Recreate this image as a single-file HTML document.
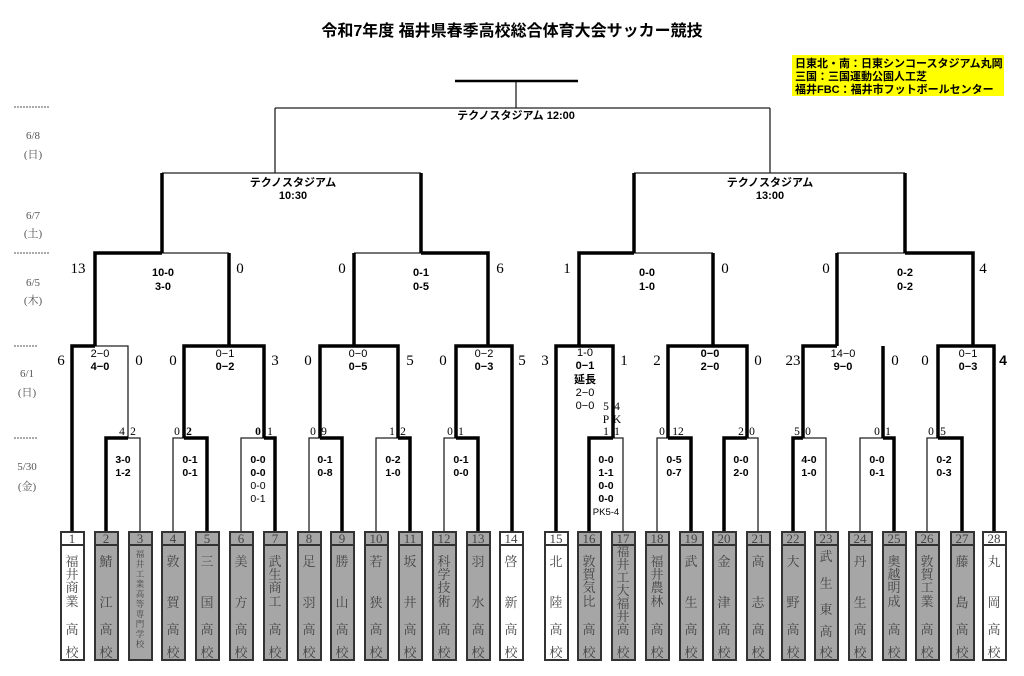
<!DOCTYPE html>
<html><head><meta charset="utf-8">
<style>
html,body{margin:0;padding:0;background:#fff;}
body{width:1024px;height:676px;overflow:hidden;position:relative;}
svg{position:absolute;left:0;top:0;}
.t{font-family:"Liberation Sans","Noto Sans CJK JP",sans-serif;font-weight:bold;}
.s{font-family:"Liberation Serif","Noto Serif CJK SC",serif;}
.n{font-family:"Liberation Serif","Noto Serif CJK SC",serif;fill:#444;font-size:13px;}
.d{font-family:"Liberation Serif","Noto Serif CJK SC",serif;fill:#555;font-size:11px;}
</style></head><body>
<svg width="1024" height="676" viewBox="0 0 1024 676" xmlns="http://www.w3.org/2000/svg">
<text x="512" y="36" text-anchor="middle" class="t" font-size="16">令和7年度  福井県春季高校総合体育大会サッカー競技</text>
<rect x="792" y="55" width="212" height="41" fill="#ffff00"/>
<text x="795" y="67" class="t" font-size="11">日東北・南：日東シンコースタジアム丸岡</text>
<text x="795" y="80" class="t" font-size="11">三国：三国運動公園人工芝</text>
<text x="795" y="93" class="t" font-size="11">福井FBC：福井市フットボールセンター</text>

<g stroke="#555" stroke-width="1" stroke-dasharray="2,1">
<line x1="14" y1="107" x2="50" y2="107"/><line x1="14" y1="253" x2="50" y2="253"/>
<line x1="14" y1="346" x2="38" y2="346"/><line x1="14" y1="438" x2="38" y2="438"/>
</g>
<g class="d" text-anchor="middle">
<text x="33" y="139">6/8</text><text x="33" y="158">(日)</text>
<text x="33" y="219">6/7</text><text x="33" y="237">(土)</text>
<text x="33" y="286">6/5</text><text x="33" y="304">(木)</text>
<text x="27" y="377">6/1</text><text x="27" y="396">(日)</text>
<text x="27" y="470">5/30</text><text x="27" y="490">(金)</text>
</g>

<!-- thin lines -->
<g stroke="#222" stroke-width="1.3" fill="none">
<path d="M516 81V108M275 108H770M275 108V173M770 108V173M162 173H421M634 173H905"/>
<path d="M162 253H229M354 253H421M634 253H713M837 253H905"/>
<path d="M95 346H128V438"/>
<path d="M128 438H140V532M173 532V438H184M241 532V438H264M309 532V438H320M376 532V438H398M444 532V438H456"/>
<path d="M613 438H623V532M657 532V438H668M747 438H758V532M803 438H826V532M860 532V438H883M927 532V438H938"/>
</g>
<!-- thick lines -->
<g stroke="#000" stroke-width="3.5" fill="none" stroke-linejoin="miter">
<path d="M455 81H578" stroke-width="2.5"/>
<path d="M162 173V253M421 173V253M634 173V253M905 173V253"/>
<path d="M95 346V253H162M229 253V346M354 346V253M421 253H488V346M579 346V253H634M713 253V346M837 346V253M905 253H973V346"/>
<path d="M72 532V346H95"/>
<path d="M184 438V346H264V438M320 438V346H398V438M456 438V346H512V532"/>
<path d="M556 532V346H613V438M668 438V346H747V438M803 438V346H837M883 346V438M938 438V346H994V532"/>
<path d="M106 532V438H128M184 438H207V532M264 438H275V532M320 438H342V532M398 438H410V532M456 438H478V532"/>
<path d="M589 532V438H613M668 438H691V532M724 532V438H747M793 532V438H803M883 438H894V532M938 438H962V532"/>
</g>

<!-- labels -->
<g class="t" font-size="11" text-anchor="middle">
<text x="516" y="119">テクノスタジアム  12:00</text>
<text x="293" y="186">テクノスタジアム</text><text x="293" y="199">10:30</text>
<text x="770" y="186">テクノスタジアム</text><text x="770" y="199">13:00</text>
<text x="163" y="276">10-0</text><text x="163" y="290">3-0</text>
<text x="421" y="276">0-1</text><text x="421" y="290">0-5</text>
<text x="647" y="276">0-0</text><text x="647" y="290">1-0</text>
<text x="905" y="276">0-2</text><text x="905" y="290">0-2</text>
<text x="100" y="357" font-weight="normal">2−0</text><text x="100" y="370">4−0</text>
<text x="225" y="357" font-weight="normal">0−1</text><text x="225" y="370">0−2</text>
<text x="358" y="357" font-weight="normal">0−0</text><text x="358" y="370">0−5</text>
<text x="484" y="357" font-weight="normal">0−2</text><text x="484" y="370">0−3</text>
<text x="585" y="356" font-weight="normal">1-0</text><text x="585" y="369">0−1</text><text x="585" y="383">延長</text>
<text x="585" y="396" font-weight="normal">2−0</text><text x="585" y="409" font-weight="normal">0−0</text>
<text x="710" y="357">0−0</text><text x="710" y="370">2−0</text>
<text x="843" y="357" font-weight="normal">14−0</text><text x="843" y="370">9−0</text>
<text x="968" y="357" font-weight="normal">0−1</text><text x="968" y="370">0−3</text>
</g>
<g class="t" font-size="10.5" text-anchor="middle">
<text x="123" y="463">3-0</text><text x="123" y="476">1-2</text>
<text x="190" y="463">0-1</text><text x="190" y="476">0-1</text>
<text x="258" y="463">0-0</text><text x="258" y="476">0-0</text><text x="258" y="489" font-weight="normal">0-0</text><text x="258" y="502" font-weight="normal">0-1</text>
<text x="325" y="463">0-1</text><text x="325" y="476">0-8</text>
<text x="393" y="463">0-2</text><text x="393" y="476">1-0</text>
<text x="461" y="463">0-1</text><text x="461" y="476">0-0</text>
<text x="606" y="463">0-0</text><text x="606" y="476">1-1</text><text x="606" y="489">0-0</text><text x="606" y="502">0-0</text>
<text x="606" y="515" font-weight="normal" font-size="9.5">PK5-4</text>
<text x="674" y="463">0-5</text><text x="674" y="476">0-7</text>
<text x="741" y="463">0-0</text><text x="741" y="476">2-0</text>
<text x="809" y="463">4-0</text><text x="809" y="476">1-0</text>
<text x="877" y="463">0-0</text><text x="877" y="476">0-1</text>
<text x="944" y="463">0-2</text><text x="944" y="476">0-3</text>
</g>
<g class="s" font-size="15" text-anchor="middle">
<text x="78" y="273">13</text><text x="240" y="273">0</text><text x="342" y="273">0</text><text x="500" y="273">6</text>
<text x="567" y="273">1</text><text x="725" y="273">0</text><text x="826" y="273">0</text><text x="983" y="273">4</text>
<text x="61" y="365">6</text><text x="139" y="365">0</text><text x="173" y="365">0</text><text x="275" y="365">3</text>
<text x="308" y="365">0</text><text x="410" y="365">5</text><text x="443" y="365">0</text><text x="522" y="365">5</text>
<text x="545" y="365">3</text><text x="624" y="365">1</text><text x="657" y="365">2</text><text x="758" y="365">0</text>
<text x="793" y="365">23</text><text x="895" y="365">0</text><text x="925" y="365">0</text>
<text x="1003" y="365" class="t" font-size="14">4</text>
</g>
<g class="s" font-size="11.5" text-anchor="middle">
<text x="122" y="435">4</text><text x="133" y="435">2</text>
<text x="177" y="435">0</text><text x="189" y="435" font-weight="bold">2</text>
<text x="258" y="435" font-weight="bold">0</text><text x="270" y="435">1</text>
<text x="313" y="435">0</text><text x="324" y="435">9</text>
<text x="392" y="435">1</text><text x="403" y="435">2</text>
<text x="450" y="435">0</text><text x="461" y="435">1</text>
<text x="606" y="410">5</text><text x="617" y="410">4</text>
<text x="606" y="423">P</text><text x="617" y="423">K</text>
<text x="606" y="435">1</text><text x="617" y="435">1</text>
<text x="662" y="435">0</text><text x="678" y="435">12</text>
<text x="741" y="435">2</text><text x="752" y="435">0</text>
<text x="797" y="435">5</text><text x="808" y="435">0</text>
<text x="877" y="435">0</text><text x="888" y="435">1</text>
<text x="931" y="435">0</text><text x="943" y="435">5</text>
</g>

<!-- team boxes -->
<g stroke="#333" stroke-width="2">
<rect x="61" y="532" width="23" height="13" fill="#fff"/><rect x="61" y="545" width="23" height="115" fill="#fff"/>
<rect x="95" y="532" width="23" height="13" fill="#a6a6a6"/><rect x="95" y="545" width="23" height="115" fill="#a6a6a6"/>
<rect x="129" y="532" width="23" height="13" fill="#a6a6a6"/><rect x="129" y="545" width="23" height="115" fill="#a6a6a6"/>
<rect x="162" y="532" width="23" height="13" fill="#a6a6a6"/><rect x="162" y="545" width="23" height="115" fill="#a6a6a6"/>
<rect x="196" y="532" width="23" height="13" fill="#a6a6a6"/><rect x="196" y="545" width="23" height="115" fill="#a6a6a6"/>
<rect x="230" y="532" width="23" height="13" fill="#a6a6a6"/><rect x="230" y="545" width="23" height="115" fill="#a6a6a6"/>
<rect x="264" y="532" width="23" height="13" fill="#a6a6a6"/><rect x="264" y="545" width="23" height="115" fill="#a6a6a6"/>
<rect x="298" y="532" width="23" height="13" fill="#a6a6a6"/><rect x="298" y="545" width="23" height="115" fill="#a6a6a6"/>
<rect x="331" y="532" width="23" height="13" fill="#a6a6a6"/><rect x="331" y="545" width="23" height="115" fill="#a6a6a6"/>
<rect x="365" y="532" width="23" height="13" fill="#a6a6a6"/><rect x="365" y="545" width="23" height="115" fill="#a6a6a6"/>
<rect x="399" y="532" width="23" height="13" fill="#a6a6a6"/><rect x="399" y="545" width="23" height="115" fill="#a6a6a6"/>
<rect x="433" y="532" width="23" height="13" fill="#a6a6a6"/><rect x="433" y="545" width="23" height="115" fill="#a6a6a6"/>
<rect x="467" y="532" width="23" height="13" fill="#a6a6a6"/><rect x="467" y="545" width="23" height="115" fill="#a6a6a6"/>
<rect x="500" y="532" width="23" height="13" fill="#fff"/><rect x="500" y="545" width="23" height="115" fill="#fff"/>
<rect x="545" y="532" width="23" height="13" fill="#fff"/><rect x="545" y="545" width="23" height="115" fill="#fff"/>
<rect x="578" y="532" width="23" height="13" fill="#a6a6a6"/><rect x="578" y="545" width="23" height="115" fill="#a6a6a6"/>
<rect x="612" y="532" width="23" height="13" fill="#a6a6a6"/><rect x="612" y="545" width="23" height="115" fill="#a6a6a6"/>
<rect x="646" y="532" width="23" height="13" fill="#a6a6a6"/><rect x="646" y="545" width="23" height="115" fill="#a6a6a6"/>
<rect x="680" y="532" width="23" height="13" fill="#a6a6a6"/><rect x="680" y="545" width="23" height="115" fill="#a6a6a6"/>
<rect x="713" y="532" width="23" height="13" fill="#a6a6a6"/><rect x="713" y="545" width="23" height="115" fill="#a6a6a6"/>
<rect x="747" y="532" width="23" height="13" fill="#a6a6a6"/><rect x="747" y="545" width="23" height="115" fill="#a6a6a6"/>
<rect x="782" y="532" width="23" height="13" fill="#a6a6a6"/><rect x="782" y="545" width="23" height="115" fill="#a6a6a6"/>
<rect x="815" y="532" width="23" height="13" fill="#a6a6a6"/><rect x="815" y="545" width="23" height="115" fill="#a6a6a6"/>
<rect x="849" y="532" width="23" height="13" fill="#a6a6a6"/><rect x="849" y="545" width="23" height="115" fill="#a6a6a6"/>
<rect x="883" y="532" width="23" height="13" fill="#a6a6a6"/><rect x="883" y="545" width="23" height="115" fill="#a6a6a6"/>
<rect x="916" y="532" width="23" height="13" fill="#a6a6a6"/><rect x="916" y="545" width="23" height="115" fill="#a6a6a6"/>
<rect x="951" y="532" width="23" height="13" fill="#a6a6a6"/><rect x="951" y="545" width="23" height="115" fill="#a6a6a6"/>
<rect x="983" y="532" width="23" height="13" fill="#fff"/><rect x="983" y="545" width="23" height="115" fill="#fff"/>
</g>
<g class="n" font-size="11" text-anchor="middle">
<text x="72" y="543">1</text><text x="106" y="543">2</text><text x="140" y="543">3</text><text x="173" y="543">4</text>
<text x="207" y="543">5</text><text x="241" y="543">6</text><text x="275" y="543">7</text><text x="309" y="543">8</text>
<text x="342" y="543">9</text><text x="376" y="543">10</text><text x="410" y="543">11</text><text x="444" y="543">12</text>
<text x="478" y="543">13</text><text x="511" y="543">14</text><text x="556" y="543">15</text><text x="589" y="543">16</text>
<text x="623" y="543">17</text><text x="657" y="543">18</text><text x="691" y="543">19</text><text x="724" y="543">20</text>
<text x="758" y="543">21</text><text x="793" y="543">22</text><text x="826" y="543">23</text><text x="860" y="543">24</text>
<text x="894" y="543">25</text><text x="927" y="543">26</text><text x="962" y="543">27</text><text x="994" y="543">28</text>
</g>
<g class="n" text-anchor="middle">
<!-- 4-char pattern y: 566,579,592,606 ; 2-char: 566,607 ; 高 634 校 657 -->
<text x="72" y="566">福</text><text x="72" y="579">井</text><text x="72" y="592">商</text><text x="72" y="606">業</text><text x="72" y="634">高</text><text x="72" y="657">校</text>
<text x="106" y="566">鯖</text><text x="106" y="607">江</text><text x="106" y="634">高</text><text x="106" y="657">校</text>
<g font-size="8.5"><text x="140" y="557">福</text><text x="140" y="567">井</text><text x="140" y="577">工</text><text x="140" y="587">業</text><text x="140" y="597">高</text><text x="140" y="607">等</text><text x="140" y="617">専</text><text x="140" y="627">門</text><text x="140" y="637">学</text><text x="140" y="647">校</text></g>
<text x="173" y="566">敦</text><text x="173" y="607">賀</text><text x="173" y="634">高</text><text x="173" y="657">校</text>
<text x="207" y="566">三</text><text x="207" y="607">国</text><text x="207" y="634">高</text><text x="207" y="657">校</text>
<text x="241" y="566">美</text><text x="241" y="607">方</text><text x="241" y="634">高</text><text x="241" y="657">校</text>
<text x="275" y="566">武</text><text x="275" y="579">生</text><text x="275" y="592">商</text><text x="275" y="606">工</text><text x="275" y="634">高</text><text x="275" y="657">校</text>
<text x="309" y="566">足</text><text x="309" y="607">羽</text><text x="309" y="634">高</text><text x="309" y="657">校</text>
<text x="342" y="566">勝</text><text x="342" y="607">山</text><text x="342" y="634">高</text><text x="342" y="657">校</text>
<text x="376" y="566">若</text><text x="376" y="607">狭</text><text x="376" y="634">高</text><text x="376" y="657">校</text>
<text x="410" y="566">坂</text><text x="410" y="607">井</text><text x="410" y="634">高</text><text x="410" y="657">校</text>
<text x="444" y="566">科</text><text x="444" y="579">学</text><text x="444" y="592">技</text><text x="444" y="606">術</text><text x="444" y="634">高</text><text x="444" y="657">校</text>
<text x="478" y="566">羽</text><text x="478" y="607">水</text><text x="478" y="634">高</text><text x="478" y="657">校</text>
<text x="511" y="566">啓</text><text x="511" y="607">新</text><text x="511" y="634">高</text><text x="511" y="657">校</text>
<text x="556" y="566">北</text><text x="556" y="607">陸</text><text x="556" y="634">高</text><text x="556" y="657">校</text>
<text x="589" y="566">敦</text><text x="589" y="579">賀</text><text x="589" y="592">気</text><text x="589" y="606">比</text><text x="589" y="634">高</text><text x="589" y="657">校</text>
<text x="623" y="556">福</text><text x="623" y="569">井</text><text x="623" y="582">工</text><text x="623" y="595">大</text><text x="623" y="608">福</text><text x="623" y="621">井</text><text x="623" y="634">高</text><text x="623" y="657">校</text>
<text x="657" y="566">福</text><text x="657" y="579">井</text><text x="657" y="592">農</text><text x="657" y="606">林</text><text x="657" y="634">高</text><text x="657" y="657">校</text>
<text x="691" y="566">武</text><text x="691" y="607">生</text><text x="691" y="634">高</text><text x="691" y="657">校</text>
<text x="724" y="566">金</text><text x="724" y="607">津</text><text x="724" y="634">高</text><text x="724" y="657">校</text>
<text x="758" y="566">高</text><text x="758" y="607">志</text><text x="758" y="634">高</text><text x="758" y="657">校</text>
<text x="793" y="566">大</text><text x="793" y="607">野</text><text x="793" y="634">高</text><text x="793" y="657">校</text>
<text x="826" y="561">武</text><text x="826" y="588">生</text><text x="826" y="614">東</text><text x="826" y="636">高</text><text x="826" y="657">校</text>
<text x="860" y="566">丹</text><text x="860" y="607">生</text><text x="860" y="634">高</text><text x="860" y="657">校</text>
<text x="894" y="566">奥</text><text x="894" y="579">越</text><text x="894" y="592">明</text><text x="894" y="606">成</text><text x="894" y="634">高</text><text x="894" y="657">校</text>
<text x="927" y="566">敦</text><text x="927" y="579">賀</text><text x="927" y="592">工</text><text x="927" y="606">業</text><text x="927" y="634">高</text><text x="927" y="657">校</text>
<text x="962" y="566">藤</text><text x="962" y="607">島</text><text x="962" y="634">高</text><text x="962" y="657">校</text>
<text x="994" y="566">丸</text><text x="994" y="607">岡</text><text x="994" y="634">高</text><text x="994" y="657">校</text>
</g>
</svg>
</body></html>
